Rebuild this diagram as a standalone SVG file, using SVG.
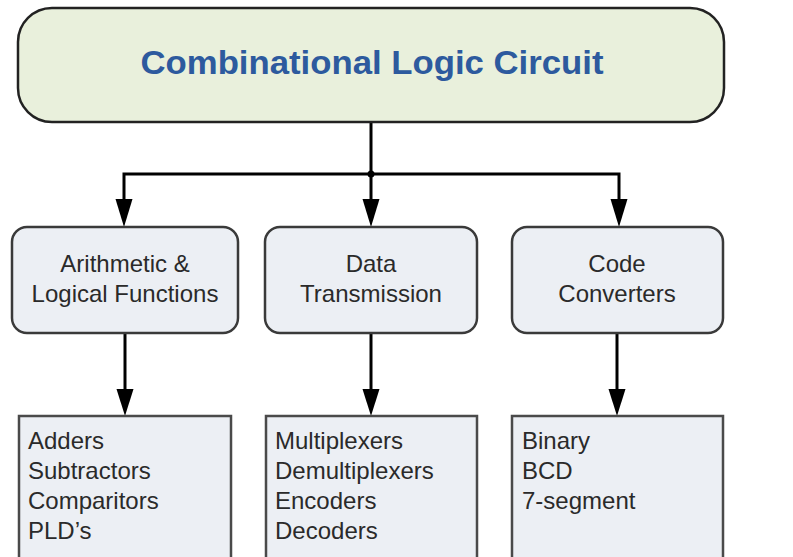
<svg xmlns="http://www.w3.org/2000/svg" width="793" height="557" viewBox="0 0 793 557">
<defs>
<style>
.title{font-family:"Liberation Sans",Arial,sans-serif;font-weight:bold;font-size:34px;fill:#2d5a9e}
.mid{fill:#eceff4;stroke:#3a3a3a;stroke-width:2.5}
.bot{fill:#eceff4;stroke:#4a4a4a;stroke-width:2.5}
.lbl{font-family:"Liberation Sans",Arial,sans-serif;font-size:24px;fill:#2a2a2a}
.conn{fill:none;stroke:#000;stroke-width:3}
.head{fill:#000}
</style>
</defs>
<rect width="793" height="557" fill="#fff"/>
<g id="connectors">
<line class="conn" x1="371" y1="122" x2="371" y2="174"/>
<polyline class="conn" points="124,200 124,174 619,174 619,200"/>
<line class="conn" x1="371" y1="174" x2="371" y2="200"/>
<circle cx="371" cy="174" r="3.5" fill="#000"/>
<path class="head" d="M115.5,199 L132.5,199 L124,227 Z"/>
<path class="head" d="M362.5,199 L379.5,199 L371,227 Z"/>
<path class="head" d="M610.5,199 L627.5,199 L619,227 Z"/>
<line class="conn" x1="125" y1="333" x2="125" y2="390"/>
<line class="conn" x1="371" y1="333" x2="371" y2="390"/>
<line class="conn" x1="617" y1="333" x2="617" y2="390"/>
<path class="head" d="M116.5,389 L133.5,389 L125,416 Z"/>
<path class="head" d="M362.5,389 L379.5,389 L371,416 Z"/>
<path class="head" d="M608.5,389 L625.5,389 L617,416 Z"/>
</g>
<g id="root">
<rect x="18" y="8" width="706" height="114" rx="34" ry="34" fill="#e9f0dc" stroke="#222" stroke-width="2.5"/>
<text class="title" x="372" y="74" text-anchor="middle" textLength="463" lengthAdjust="spacingAndGlyphs">Combinational Logic Circuit</text>
</g>
<g id="arith">
<rect class="mid" x="12" y="227" width="226" height="106" rx="15" ry="15"/>
<text class="lbl" x="125" y="272" text-anchor="middle">Arithmetic &amp;</text>
<text class="lbl" x="125" y="302" text-anchor="middle">Logical Functions</text>
</g>
<g id="data">
<rect class="mid" x="265" y="227" width="212" height="106" rx="15" ry="15"/>
<text class="lbl" x="371" y="272" text-anchor="middle">Data</text>
<text class="lbl" x="371" y="302" text-anchor="middle">Transmission</text>
</g>
<g id="code">
<rect class="mid" x="512" y="227" width="211" height="106" rx="15" ry="15"/>
<text class="lbl" x="617" y="272" text-anchor="middle">Code</text>
<text class="lbl" x="617" y="302" text-anchor="middle">Converters</text>
</g>
<g id="arith-list">
<rect class="bot" x="19" y="416" width="212" height="150"/>
<text class="lbl" x="28" y="449">Adders</text>
<text class="lbl" x="28" y="479">Subtractors</text>
<text class="lbl" x="28" y="509">Comparitors</text>
<text class="lbl" x="28" y="539">PLD’s</text>
</g>
<g id="data-list">
<rect class="bot" x="266" y="416" width="211" height="150"/>
<text class="lbl" x="275" y="449">Multiplexers</text>
<text class="lbl" x="275" y="479">Demultiplexers</text>
<text class="lbl" x="275" y="509">Encoders</text>
<text class="lbl" x="275" y="539">Decoders</text>
</g>
<g id="code-list">
<rect class="bot" x="512" y="416" width="211" height="150"/>
<text class="lbl" x="522" y="449">Binary</text>
<text class="lbl" x="522" y="479">BCD</text>
<text class="lbl" x="522" y="509">7-segment</text>
</g>
</svg>
